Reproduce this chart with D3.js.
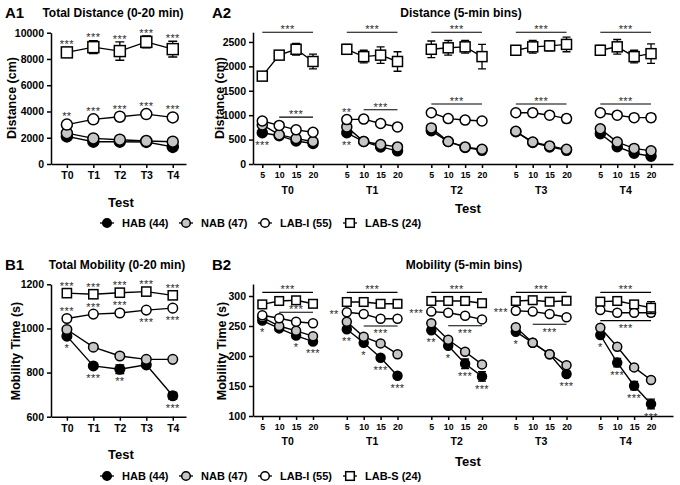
<!DOCTYPE html>
<html>
<head>
<meta charset="utf-8">
<script src="https://cdn.jsdelivr.net/npm/d3@7"></script>
<style>
  body { margin: 0; background: #fff; }
  svg { font-family: "Liberation Sans", Arial, sans-serif; }
</style>
</head>
<body>
<script>
const tests = ["T0", "T1", "T2", "T3", "T4"];
const bins = [5, 10, 15, 20];
const groups = ["HAB (44)", "NAB (47)", "LAB-I (55)", "LAB-S (24)"];
const keys = ["HAB", "NAB", "LABI", "LABS"];

// A1 total distance (cm), one value per test
const distHAB  = [2100, 1700, 1700, 1680, 1300];
const distNAB  = [2350, 1950, 1850, 1750, 1700];
const distLABI = [3000, 3400, 3600, 3800, 3550];
const distLABS = [8500, 8900, 8600, 9300, 8750];
const distHABErr  = [100, 100, 100, 100, 100];
const distNABErr  = [100, 100, 100, 100, 100];
const distLABIErr = [150, 150, 200, 100, 100];
const distLABSErr = [200, 500, 700, 450, 600];

// A2 distance per 5-min bin, [test][bin]
const binDistHAB  = [[640, 580, 470, 420], [640, 460, 350, 270], [680, 460, 340, 280], [660, 440, 350, 280], [620, 355, 220, 160]];
const binDistNAB  = [[800, 600, 520, 460], [760, 460, 400, 350], [740, 460, 350, 300], [670, 450, 370, 300], [720, 450, 320, 270]];
const binDistLABI = [[880, 790, 700, 650], [910, 920, 830, 760], [1050, 930, 900, 880], [1050, 1050, 1000, 930], [1050, 1000, 950, 950]];
const binDistLABS = [[1800, 2230, 2350, 2100], [2350, 2200, 2230, 2100], [2350, 2380, 2400, 2200], [2330, 2400, 2420, 2450], [2330, 2400, 2200, 2260]];
const binDistHABErr  = [[25, 25, 25, 25], [25, 25, 25, 25], [25, 25, 25, 25], [25, 25, 25, 25], [25, 25, 25, 25]];
const binDistNABErr  = [[25, 25, 25, 25], [25, 25, 25, 25], [25, 25, 25, 25], [25, 25, 25, 25], [25, 25, 25, 25]];
const binDistLABIErr = [[30, 30, 30, 30], [30, 30, 30, 30], [30, 30, 30, 30], [30, 80, 30, 80], [30, 30, 30, 80]];
const binDistLABSErr = [[50, 60, 120, 150], [100, 130, 170, 200], [170, 150, 130, 250], [80, 130, 100, 150], [100, 150, 130, 200]];

// B1 total mobility time (s)
const mobHAB  = [965, 830, 815, 835, 695];
const mobNAB  = [995, 915, 875, 860, 860];
const mobLABI = [1045, 1065, 1070, 1083, 1092];
const mobLABS = [1160, 1155, 1162, 1167, 1150];
const mobHABErr  = [10, 10, 20, 10, 15];
const mobNABErr  = [8, 8, 8, 8, 8];
const mobLABIErr = [8, 8, 8, 8, 8];
const mobLABSErr = [8, 8, 8, 8, 8];

// B2 mobility per 5-min bin, [test][bin]
const binMobHAB  = [[259, 246, 234, 224], [244.5, 222, 197, 167], [243, 217, 187, 166], [240.5, 222, 203, 170], [235, 189, 150.5, 120]];
const binMobNAB  = [[264.5, 250, 242, 233], [257, 232, 221, 203], [254.5, 227, 207, 186], [248, 222, 203, 184.5], [247, 215.5, 181, 160]];
const binMobLABI = [[268, 263, 257, 254.5], [273, 270, 262, 262], [274, 272, 267, 261], [275.5, 274, 270, 264.5], [276.5, 272, 272, 272]];
const binMobLABS = [[286, 291.7, 292.8, 287], [290, 290, 287, 287], [291.7, 291.7, 291.7, 288], [291.7, 293, 290.5, 292], [290.6, 291.7, 286, 280.5]];
const binMobHABErr  = [[3, 3, 3, 3], [3, 3, 3, 4], [3, 3, 8, 8], [3, 3, 3, 3], [3, 7, 7, 8]];
const binMobNABErr  = [[3, 3, 3, 3], [3, 3, 3, 3], [3, 3, 3, 3], [3, 3, 3, 3], [3, 3, 3, 3]];
const binMobLABIErr = [[3, 3, 3, 3], [3, 3, 3, 3], [3, 3, 3, 3], [3, 3, 3, 3], [3, 3, 3, 6]];
const binMobLABSErr = [[3, 3, 3, 3], [3, 3, 3, 3], [3, 3, 3, 3], [3, 3, 3, 3], [3, 3, 3, 10]];

// significance marks: [series, test, label, side]
const sigA1 = [["LABS", 0, "***", "above"], ["LABS", 1, "***", "above"], ["LABS", 2, "***", "above"],
  ["LABS", 3, "***", "above"], ["LABS", 4, "***", "above"], ["LABI", 0, "**", "above"],
  ["LABI", 1, "***", "above"], ["LABI", 2, "***", "above"], ["LABI", 3, "***", "above"], ["LABI", 4, "***", "above"]];
const sigB1 = [["LABS", 0, "***", "above"], ["LABS", 1, "***", "above"], ["LABS", 2, "***", "above"],
  ["LABS", 3, "***", "above"], ["LABS", 4, "***", "above"], ["LABI", 0, "***", "above"],
  ["LABI", 1, "***", "above"], ["LABI", 2, "***", "above"], ["LABI", 3, "***", "below"], ["LABI", 4, "***", "below"],
  ["HAB", 0, "*", "below"], ["HAB", 1, "***", "below"], ["HAB", 2, "**", "below"], ["HAB", 4, "***", "below"]];
// binned panels: [series, test, bin, label, side]
const sigA2 = [["HAB", 0, 0, "***", "below"], ["LABI", 1, 0, "**", "above"], ["HAB", 1, 0, "**", "below"]];
const sigB2 = [["HAB", 0, 0, "*", "below"], ["HAB", 0, 2, "*", "below"], ["HAB", 0, 3, "***", "below"],
  ["LABI", 1, 0, "**", "left"], ["HAB", 1, 0, "**", "below"], ["HAB", 1, 1, "*", "below"], ["HAB", 1, 2, "***", "below"], ["HAB", 1, 3, "***", "below"],
  ["LABI", 2, 0, "***", "left"], ["HAB", 2, 0, "**", "below"], ["HAB", 2, 1, "*", "below"], ["HAB", 2, 2, "***", "below"], ["HAB", 2, 3, "***", "below"],
  ["LABI", 3, 0, "***", "left"], ["HAB", 3, 0, "*", "below"], ["HAB", 3, 3, "***", "below"],
  ["HAB", 4, 0, "*", "below"], ["HAB", 4, 1, "***", "below"], ["HAB", 4, 2, "***", "below"], ["HAB", 4, 3, "***", "below"]];
// bracket lines: [test, fromBin, toBin, level, side]
const barsA2 = [[0, 0, 3, 2700, "above"], [1, 0, 3, 2700, "above"], [2, 0, 3, 2700, "above"], [3, 0, 3, 2700, "above"], [4, 0, 3, 2700, "above"],
  [0, 1, 3, 960, "above"], [1, 1, 3, 1110, "above"], [2, 0, 3, 1230, "above"], [3, 0, 3, 1230, "above"], [4, 0, 3, 1230, "above"]];
const barsB2 = [[0, 0, 3, 306, "above"], [1, 0, 3, 306, "above"], [2, 0, 3, 306, "above"], [3, 0, 3, 306, "above"], [4, 0, 3, 306, "above"],
  [0, 1, 3, 273, "above"], [1, 1, 3, 250, "below"], [2, 1, 3, 250.5, "below"], [3, 1, 3, 253, "below"], [4, 0, 3, 259, "below"]];

const fills = {HAB: "#000", NAB: "#c6c6c6", LABI: "#fff", LABS: "#fff"};

const svg = d3.select("body").append("svg")
  .attr("width", 680).attr("height", 485);

function styleAxis(sel, fs) {
  sel.attr("font-family", null);
  sel.selectAll("path, line").attr("stroke", "#000").attr("stroke-width", 1.5);
  sel.selectAll("text").attr("font-size", fs).attr("font-weight", "bold").attr("fill", "#000");
}

function marker(g, key, x, y, r, h) {
  if (key === "LABS") {
    g.append("rect").attr("x", x - h).attr("y", y - h)
      .attr("width", 2 * h).attr("height", 2 * h)
      .attr("fill", "#fff").attr("stroke", "#000").attr("stroke-width", 1.5);
  } else {
    g.append("circle").attr("cx", x).attr("cy", y).attr("r", r)
      .attr("fill", fills[key]).attr("stroke", "#000").attr("stroke-width", 1.5);
  }
}

function errorBar(g, x, y0, y1, cap) {
  g.append("path")
    .attr("d", `M${x},${y0}V${y1}M${x - cap},${y0}H${x + cap}M${x - cap},${y1}H${x + cap}`)
    .attr("stroke", "#000").attr("stroke-width", 1.3).attr("fill", "none");
}

function stars(g, x, yc, label, anchor) {
  g.append("text").attr("x", x).attr("y", yc + 6.3)
    .attr("text-anchor", anchor || "middle")
    .attr("font-size", 11).attr("letter-spacing", 0.4)
    .attr("fill", "#2a2a2a").text(label);
}

function place(g, x, yv, errPx, r, label, side) {
  const off = Math.max(r + 5, errPx + 5.5);
  if (side === "above") stars(g, x, yv - off, label);
  else if (side === "below") stars(g, x, yv + off, label);
  else stars(g, x - 8, yv - 1, label, "end");
}

function text(x, y, s, size, anchor, rot) {
  const t = svg.append("text").attr("font-size", size).attr("font-weight", "bold")
    .attr("text-anchor", anchor).attr("fill", "#000").text(s);
  if (rot) t.attr("transform", `translate(${x},${y}) rotate(-90)`).attr("dy", "0.36em");
  else t.attr("x", x).attr("y", y);
}

function simplePanel(p) {
  const x = d3.scaleLinear().domain([-0.6, 4.5]).range([51, 186]);
  const y = d3.scaleLinear().domain(p.yDomain).range([p.bottom, p.top]);
  const g = svg.append("g");
  g.append("g").attr("transform", `translate(0,${p.bottom})`)
    .call(d3.axisBottom(x).tickValues(d3.range(tests.length)).tickFormat(i => tests[i])
      .tickSize(4).tickSizeOuter(0).tickPadding(4))
    .call(styleAxis, 10.5);
  g.append("g").attr("transform", "translate(51,0)")
    .call(d3.axisLeft(y).tickValues(p.yTicks).tickFormat(d3.format("d"))
      .tickSize(4).tickSizeOuter(0).tickPadding(3))
    .call(styleAxis, 10.5);

  keys.forEach(k => {
    const vals = p.values[k], errs = p.errors[k];
    vals.forEach((v, i) => errorBar(g, x(i), y(v - errs[i]), y(v + errs[i]), 4.5));
    g.append("path").datum(vals)
      .attr("fill", "none").attr("stroke", "#000").attr("stroke-width", 1.4)
      .attr("d", d3.line().x((d, i) => x(i)).y(d => y(d)));
    vals.forEach((v, i) => marker(g, k, x(i), y(v), p.r, p.h));
  });

  p.sig.forEach(([k, i, label, side]) => {
    const v = p.values[k][i], e = p.errors[k][i];
    place(g, x(i), y(v), y(v) - y(v + e), p.r, label, side);
  });
}

function binPanel(p) {
  const x = d3.scaleLinear().domain([-0.55, 24.3]).range([253, 673]);
  const y = d3.scaleLinear().domain(p.yDomain).range([p.bottom, p.top]);
  const pos = [];
  tests.forEach((t, ti) => bins.forEach((b, bi) => pos.push(ti * 5 + bi)));
  const g = svg.append("g");
  g.append("g").attr("transform", `translate(0,${p.bottom})`)
    .call(d3.axisBottom(x).tickValues(pos).tickFormat(q => bins[q % 5])
      .tickSize(4).tickSizeOuter(0).tickPadding(4))
    .call(styleAxis, 8.8);
  g.append("g").attr("transform", "translate(253,0)")
    .call(d3.axisLeft(y).tickValues(p.yTicks).tickFormat(d3.format("d"))
      .tickSize(4).tickSizeOuter(0).tickPadding(3))
    .call(styleAxis, 10.5);

  tests.forEach((t, ti) => {
    g.append("text").attr("x", x(ti * 5 + 1.5)).attr("y", p.groupY)
      .attr("text-anchor", "middle").attr("font-size", 10.5).attr("font-weight", "bold").text(t);
  });

  keys.forEach(k => {
    p.values[k].forEach((vals, ti) => {
      const errs = p.errors[k][ti];
      vals.forEach((v, bi) => errorBar(g, x(ti * 5 + bi), y(v - errs[bi]), y(v + errs[bi]), 4));
      g.append("path").datum(vals)
        .attr("fill", "none").attr("stroke", "#000").attr("stroke-width", 1.4)
        .attr("d", d3.line().x((d, bi) => x(ti * 5 + bi)).y(d => y(d)));
      vals.forEach((v, bi) => marker(g, k, x(ti * 5 + bi), y(v), p.r, p.h));
    });
  });

  p.bars.forEach(([ti, b0, b1, level, side]) => {
    const x0 = x(ti * 5 + b0), x1 = x(ti * 5 + b1), yy = y(level);
    g.append("line").attr("x1", x0).attr("x2", x1).attr("y1", yy).attr("y2", yy)
      .attr("stroke", "#000").attr("stroke-width", 1.1);
    stars(g, (x0 + x1) / 2, side === "above" ? yy - 5.5 : yy + 5, "***");
  });

  p.sig.forEach(([k, ti, bi, label, side]) => {
    const v = p.values[k][ti][bi], e = p.errors[k][ti][bi];
    place(g, x(ti * 5 + bi), y(v), y(v) - y(v + e), p.r, label, side);
  });
}

function legend(yc) {
  const lx = [107, 186, 265, 350];
  keys.forEach((k, i) => {
    svg.append("line").attr("x1", lx[i] - 7).attr("x2", lx[i] + 7).attr("y1", yc).attr("y2", yc)
      .attr("stroke", "#000").attr("stroke-width", 1.3);
    marker(svg, k, lx[i], yc, 4.3, 4.3);
    svg.append("text").attr("x", lx[i] + 15).attr("y", yc + 4)
      .attr("font-size", 11).attr("font-weight", "bold").text(groups[i]);
  });
}

// ---- A row ----
simplePanel({
  yDomain: [0, 10000], yTicks: [0, 2000, 4000, 6000, 8000, 10000], bottom: 164, top: 32.7,
  values: {HAB: distHAB, NAB: distNAB, LABI: distLABI, LABS: distLABS},
  errors: {HAB: distHABErr, NAB: distNABErr, LABI: distLABIErr, LABS: distLABSErr},
  r: 5.5, h: 5.5, sig: sigA1
});
binPanel({
  yDomain: [0, 2700], yTicks: [0, 500, 1000, 1500, 2000, 2500], bottom: 164, top: 32.2, groupY: 194,
  values: {HAB: binDistHAB, NAB: binDistNAB, LABI: binDistLABI, LABS: binDistLABS},
  errors: {HAB: binDistHABErr, NAB: binDistNABErr, LABI: binDistLABIErr, LABS: binDistLABSErr},
  r: 5, h: 5, sig: sigA2, bars: barsA2
});

// ---- B row ----
simplePanel({
  yDomain: [600, 1200], yTicks: [600, 800, 1000, 1200], bottom: 416.7, top: 284.3,
  values: {HAB: mobHAB, NAB: mobNAB, LABI: mobLABI, LABS: mobLABS},
  errors: {HAB: mobHABErr, NAB: mobNABErr, LABI: mobLABIErr, LABS: mobLABSErr},
  r: 4.8, h: 4.6, sig: sigB1
});
binPanel({
  yDomain: [100, 320], yTicks: [100, 150, 200, 250, 300], bottom: 416, top: 284, groupY: 445,
  values: {HAB: binMobHAB, NAB: binMobNAB, LABI: binMobLABI, LABS: binMobLABS},
  errors: {HAB: binMobHABErr, NAB: binMobNABErr, LABI: binMobLABIErr, LABS: binMobLABSErr},
  r: 4.5, h: 4.3, sig: sigB2, bars: barsB2
});

// titles and axis labels
text(5, 18, "A1", 15, "start");
text(113, 16.5, "Total Distance (0-20 min)", 12, "middle");
text(212, 18, "A2", 15, "start");
text(461, 16.5, "Distance (5-min bins)", 12, "middle");
text(5, 270, "B1", 15, "start");
text(117, 268.5, "Total Mobility (0-20 min)", 12, "middle");
text(212, 270, "B2", 15, "start");
text(464, 268.5, "Mobility (5-min bins)", 12, "middle");

text(11, 98, "Distance (cm)", 12.5, "middle", true);
text(219, 98, "Distance (cm)", 12.5, "middle", true);
text(15, 351, "Mobility Time (s)", 12.5, "middle", true);
text(221, 351, "Mobility Time (s)", 12.5, "middle", true);

text(121, 206.5, "Test", 13, "middle");
text(468, 212.5, "Test", 13, "middle");
text(121, 458.5, "Test", 13, "middle");
text(468, 465.5, "Test", 13, "middle");

legend(223);
legend(476);
</script>
</body>
</html>
